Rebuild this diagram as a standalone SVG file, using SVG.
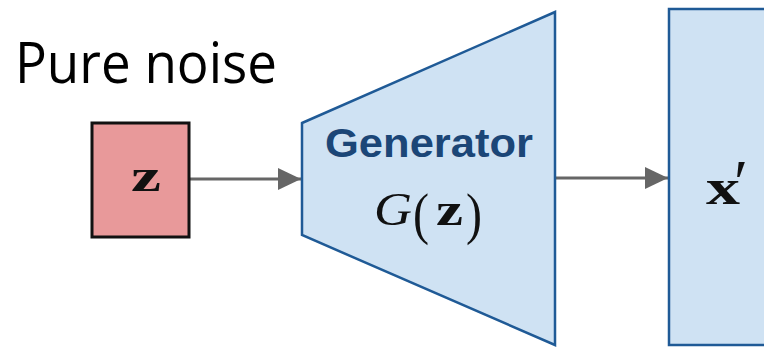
<svg xmlns="http://www.w3.org/2000/svg" width="764" height="349" viewBox="0 0 764 349">
<style>
.blue{fill:#cfe2f3;stroke:#1f5a96;stroke-width:2.5}
.conn{stroke:#666;stroke-width:3;fill:none}
.math{font-family:"Liberation Serif",serif;fill:#111}
</style>
<defs>
<marker id="ah" markerUnits="userSpaceOnUse" markerWidth="24" markerHeight="22" refX="23" refY="11" orient="auto">
<path d="M0,0 L23,11 L0,22 Z" fill="#666"/>
</marker>
</defs>
<rect width="764" height="349" fill="#fff"/>
<text x="15" y="83" font-family="'Open Sans',sans-serif" font-size="56" fill="#000" textLength="262" lengthAdjust="spacingAndGlyphs">Pure noise</text>
<g id="connectors">
<line class="conn" x1="189" y1="179" x2="301" y2="179" marker-end="url(#ah)"/>
<line class="conn" x1="556" y1="178" x2="668" y2="178" marker-end="url(#ah)"/>
</g>
<g id="z">
<rect x="92" y="123" width="97" height="114" fill="#e8999a" stroke="#111" stroke-width="3"/>
<text class="math" x="131" y="191" font-size="46" font-weight="bold" textLength="30" lengthAdjust="spacingAndGlyphs">z</text>
</g>
<g id="generator">
<polygon class="blue" points="302,123 555,12 555,345 302,235"/>
<text x="325" y="157" font-family="'Liberation Sans',Arial,sans-serif" font-size="40" font-weight="bold" fill="#1b4677" textLength="208" lengthAdjust="spacingAndGlyphs">Generator</text>
<text class="math" x="374" y="225" font-size="46" font-style="italic" textLength="38" lengthAdjust="spacingAndGlyphs">G</text>
<text class="math" x="413" y="233" font-size="58" textLength="16" lengthAdjust="spacingAndGlyphs">(</text>
<text class="math" x="436" y="225" font-size="46" font-weight="bold" textLength="27" lengthAdjust="spacingAndGlyphs">z</text>
<text class="math" x="466" y="233" font-size="58" textLength="16" lengthAdjust="spacingAndGlyphs">)</text>
</g>
<g id="xprime">
<rect class="blue" x="669" y="9" width="110" height="336"/>
<text class="math" x="706" y="204" font-size="50" font-weight="bold" textLength="34" lengthAdjust="spacingAndGlyphs">x</text>
<text class="math" x="734" y="204" font-size="64">′</text>
</g>
</svg>
